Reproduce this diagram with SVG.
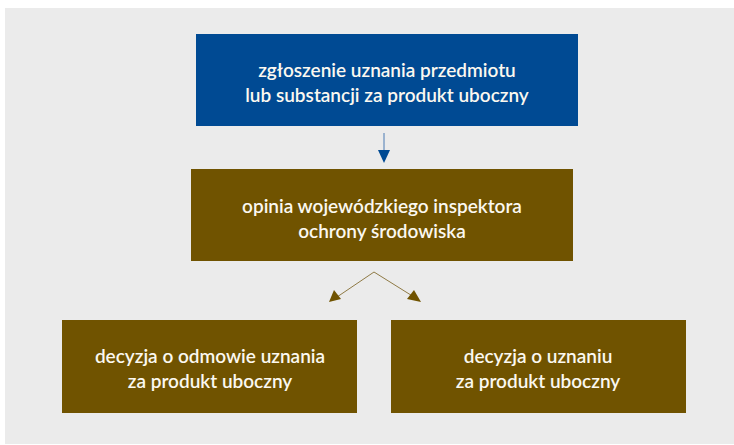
<svg xmlns="http://www.w3.org/2000/svg" width="734" height="445" viewBox="0 0 734 445">
<style>
.t{font-family:"Lato","Liberation Sans",sans-serif;font-size:19px;font-weight:600;fill:#fbf8f0;text-anchor:middle}
.b{fill:#004a93}
.o{fill:#705300}
</style>
<rect x="5" y="8" width="729" height="436" fill="#ebebeb"/>
<g id="n1"><rect class="b" x="196" y="34" width="382" height="92"/>
<text class="t" x="387" y="77">zgłoszenie uznania przedmiotu</text>
<text class="t" x="387" y="102">lub substancji za produkt uboczny</text></g>
<g id="n2"><rect class="o" x="191" y="169" width="382" height="92"/>
<text class="t" x="382" y="213">opinia wojewódzkiego inspektora</text>
<text class="t" x="382" y="238">ochrony środowiska</text></g>
<g id="n3"><rect class="o" x="62" y="320" width="295" height="93"/>
<text class="t" x="210" y="363">decyzja o odmowie uznania</text>
<text class="t" x="210" y="388">za produkt uboczny</text></g>
<g id="n4"><rect class="o" x="391" y="320" width="295" height="93"/>
<text class="t" x="538" y="363">decyzja o uznaniu</text>
<text class="t" x="538" y="388">za produkt uboczny</text></g>
<g id="connectors">
<line x1="384" y1="133" x2="384" y2="150" stroke="#4a7ab3" stroke-width="1"/>
<path d="M378,150 L390,150 L384,163 Z" fill="#004a93"/>
<polyline points="337,297 374,272 414,297" fill="none" stroke="#8f7a45" stroke-width="1"/>
<path d="M329,302 L334,290 L341,299 Z" fill="#705300"/>
<path d="M421,302 L407,299 L414,290 Z" fill="#705300"/>
</g>
</svg>
